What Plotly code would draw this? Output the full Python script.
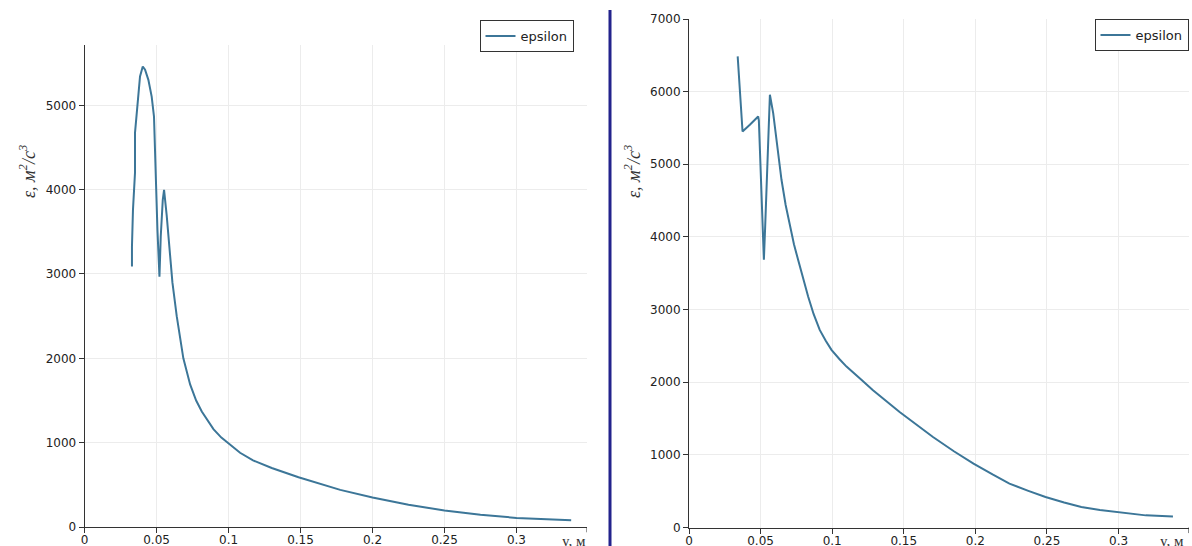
import plotly.graph_objects as go

# ---- data ----
left_x = [0.0329, 0.0329, 0.0336, 0.0350, 0.0350, 0.0366, 0.0385, 0.0404, 0.0420, 0.0443,
          0.0466, 0.0482, 0.0490, 0.0501, 0.0506, 0.0520, 0.0529, 0.0543, 0.0552, 0.0570,
          0.0590, 0.0610, 0.0640, 0.0686, 0.0733, 0.0775, 0.0814, 0.0855, 0.0895, 0.0950,
          0.1000, 0.1080, 0.1170, 0.1300, 0.1486, 0.1650, 0.1776, 0.2000, 0.2250, 0.2500,
          0.2750, 0.3000, 0.3200, 0.3380]
left_eps = [3088, 3325, 3760, 4196, 4670, 5026, 5342, 5460, 5421, 5302,
            5104, 4867, 4353, 3958, 3523, 2969, 3444, 3879, 3998, 3700,
            3300, 2900, 2500, 2000, 1690, 1500, 1370, 1260, 1160, 1060,
            990, 880, 790, 700, 590, 500, 440, 350, 265, 195,
            145, 108, 92, 80]

right_x = [0.0340, 0.0351, 0.0361, 0.0374, 0.0425, 0.0483, 0.0488, 0.0495, 0.0507, 0.0514,
           0.0523, 0.0532, 0.0542, 0.0553, 0.0565, 0.0588, 0.0615, 0.0646, 0.0675, 0.0704,
           0.0733, 0.0762, 0.0797, 0.0832, 0.0870, 0.0913, 0.0955, 0.0995, 0.1050, 0.1100,
           0.1200, 0.1285, 0.1471, 0.1600, 0.1704, 0.1850, 0.1987, 0.2120, 0.2238, 0.2370,
           0.2490, 0.2620, 0.2740, 0.2870, 0.2990, 0.3190, 0.3380]
right_eps = [6485, 6120, 5797, 5452, 5544, 5658, 5600, 5155, 4694, 4234,
             3685, 4142, 4694, 5430, 5957, 5705, 5250, 4787, 4440, 4143,
             3900, 3685, 3420, 3179, 2940, 2720, 2570, 2445, 2320, 2215,
             2040, 1890, 1590, 1400, 1246, 1050, 880, 730, 604, 505,
             420, 345, 282, 240, 213, 167, 152]

series_name = "epsilon"
x_ticks = [0, 0.05, 0.1, 0.15, 0.2, 0.25, 0.3]
x_ticktext = ["0", "0.05", "0.1", "0.15", "0.2", "0.25", "0.3"]
x_end = 0.349
x_title = "y, м"
y_title = "<i>ε, м<sup>2</sup>/с<sup>3</sup></i>"

W, H = 1192, 546
LINE = "#3c7698"
AX = "#333333"
GRID = "#ececec"

def px_x(p):
    return p / W

def px_y(p):
    return 1 - p / H

fig = go.Figure()
fig.add_trace(go.Scatter(x=left_x, y=left_eps, mode="lines", name=series_name,
                         line=dict(color=LINE, width=2), xaxis="x", yaxis="y",
                         legend="legend"))
fig.add_trace(go.Scatter(x=right_x, y=right_eps, mode="lines", name=series_name,
                         line=dict(color=LINE, width=2), xaxis="x2", yaxis="y2",
                         legend="legend2"))

tickfont = dict(family="DejaVu Sans", size=12, color="#222222")
common_x = dict(range=[0, x_end], tickmode="array", tickvals=x_ticks, ticktext=x_ticktext,
                showline=True, linecolor=AX, linewidth=1, ticks="outside", ticklen=5,
                tickcolor=AX, showgrid=True, gridcolor=GRID, gridwidth=1, zeroline=False,
                tickfont=tickfont, automargin=False, ticklabelstandoff=-3)
common_y = dict(showline=True, linecolor=AX, linewidth=1, ticks="outside", ticklen=5,
                tickcolor=AX, showgrid=True, gridcolor=GRID, gridwidth=1, zeroline=False,
                tickfont=tickfont, dtick=1000, tick0=0, automargin=False)

fig.update_layout(
    template="none",
    width=W, height=H, margin=dict(l=0, r=0, t=0, b=0, autoexpand=False),
    paper_bgcolor="white", plot_bgcolor="white",
    xaxis=dict(domain=[px_x(84.6), px_x(587)], anchor="y", **common_x),
    yaxis=dict(domain=[px_y(527), px_y(45)], anchor="x", range=[0, 5715], **common_y),
    xaxis2=dict(domain=[px_x(689), px_x(1188.7)], anchor="y2", **common_x),
    yaxis2=dict(domain=[px_y(527.5), px_y(19)], anchor="x2", range=[0, 7000], **common_y),
    legend=dict(x=px_x(573.5), y=px_y(20), xanchor="right", yanchor="top",
                bgcolor="white", bordercolor="#333333", borderwidth=1,
                font=dict(family="DejaVu Sans", size=13, color="#222222"),
                itemwidth=30, tracegroupgap=0),
    legend2=dict(x=px_x(1188.5), y=px_y(19), xanchor="right", yanchor="top",
                 bgcolor="white", bordercolor="#333333", borderwidth=1,
                 font=dict(family="DejaVu Sans", size=13, color="#222222"),
                 itemwidth=30, tracegroupgap=0),
    showlegend=True,
)

# end-of-axis tick marks
for xr, yr in (("x", "y"), ("x2", "y2")):
    fig.add_shape(type="line", xref=xr, yref=yr + " domain",
                  x0=x_end, x1=x_end, y0=0, y1=-0.011,
                  line=dict(color=AX, width=1))

# axis titles
for cx in (27, 632):
    fig.add_annotation(x=px_x(cx), y=px_y(172), xref="paper", yref="paper",
                       text=y_title, textangle=-90, showarrow=False,
                       font=dict(family="Liberation Serif", size=18, color="#333333"),
                       xanchor="center", yanchor="middle")
for cx in (574, 1172):
    fig.add_annotation(x=px_x(cx), y=px_y(541), xref="paper", yref="paper",
                       text=x_title, showarrow=False,
                       font=dict(family="Liberation Serif", size=15, color="#333333"),
                       xanchor="center", yanchor="middle")

# divider line between the two panels
fig.add_shape(type="line", xref="paper", yref="paper",
              x0=px_x(610), x1=px_x(610), y0=0, y1=px_y(10),
              line=dict(color="#23238c", width=3))

fig.write_html("out.html", config={"displayModeBar": False},
               post_script="document.body.style.margin='0';")
